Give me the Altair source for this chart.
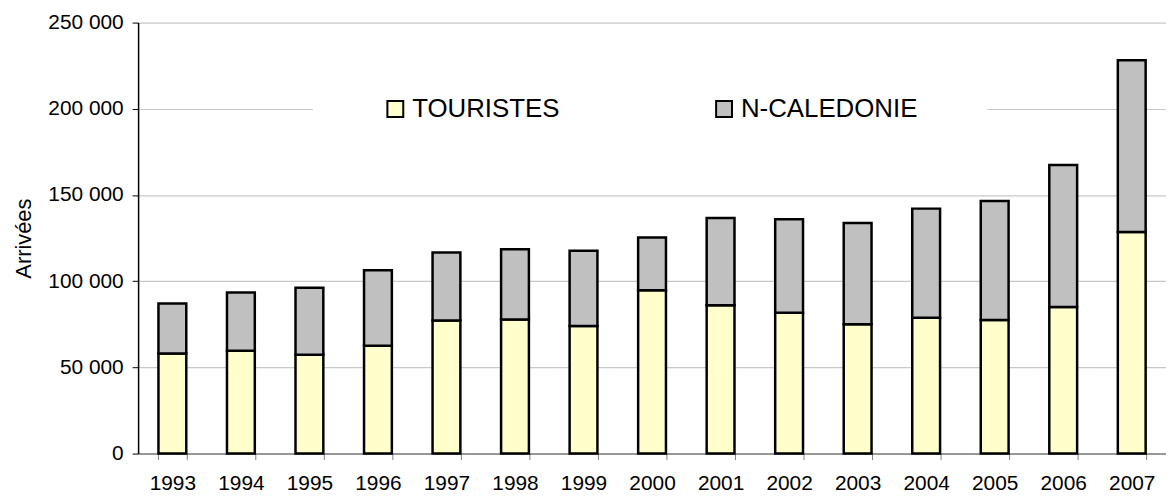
import altair as alt
import pandas as pd

years = ["1993", "1994", "1995", "1996", "1997", "1998", "1999", "2000",
         "2001", "2002", "2003", "2004", "2005", "2006", "2007"]
touristes = [58000, 59700, 57400, 62600, 77200, 77800, 74000, 94800,
             86000, 81700, 75000, 78800, 77500, 85100, 128600]
ncaledonie = [29000, 33800, 38800, 43800, 39500, 40700, 43700, 30600,
              50700, 54300, 58800, 63300, 69000, 82300, 99500]
series = ["TOURISTES", "N-CALEDONIE"]
colors = ["#FFFFCC", "#C0C0C0"]
y_ticks = [0, 50000, 100000, 150000, 200000, 250000]

rows = []
for i, y in enumerate(years):
    rows.append({"annee": y, "serie": series[0], "valeur": touristes[i], "ord": 0})
    rows.append({"annee": y, "serie": series[1], "valeur": ncaledonie[i], "ord": 1})
df = pd.DataFrame(rows)

FONT = "Liberation Sans"

chart = alt.Chart(df).mark_bar(stroke="black", strokeWidth=2.5).encode(
    x=alt.X("annee:N", sort=years,
            scale=alt.Scale(paddingInner=0.594, paddingOuter=0.297),
            axis=alt.Axis(title=None, labelAngle=0, tickBand="extent",
                          labelFontSize=21, labelFont=FONT, labelColor="black",
                          labelPadding=13, tickSize=6, tickColor="#808080",
                          domainColor="#808080", domainWidth=1.5, grid=False)),
    y=alt.Y("valeur:Q", stack="zero",
            scale=alt.Scale(domain=[0, 250000], nice=False),
            axis=alt.Axis(title="Arrivées", values=y_ticks,
                          labelExpr="datum.value == 0 ? '0' : floor(datum.value/1000) + ' 000'",
                          labelFontSize=21, labelFont=FONT, labelColor="black",
                          labelPadding=9, tickSize=6, tickColor="black",
                          domainColor="black", domainWidth=1.5,
                          gridColor="#c8c8c8", gridWidth=1.2,
                          titleFont=FONT, titleFontSize=22, titleFontWeight="normal",
                          titleColor="black", titlePadding=12)),
    color=alt.Color("serie:N", sort=series,
                    scale=alt.Scale(domain=series, range=colors),
                    legend=alt.Legend(title=None, orient="none", direction="horizontal",
                                      legendX=176, legendY=4,
                                      fillColor="white", padding=70,
                                      symbolType="square", symbolSize=256,
                                      symbolStrokeColor="black", symbolStrokeWidth=2,
                                      labelFont=FONT, labelFontSize=26, labelColor="black",
                                      labelOffset=4, columnPadding=152, labelLimit=400)),
    order=alt.Order("ord:Q", sort="ascending"),
).properties(
    width=1035, height=434,
    autosize=alt.AutoSizeParams(type="none"),
    padding={"left": 131, "top": 13, "right": 0, "bottom": 42},
).configure_view(stroke=None)

chart.save("out.html", embed_options={"renderer": "svg", "actions": False})
